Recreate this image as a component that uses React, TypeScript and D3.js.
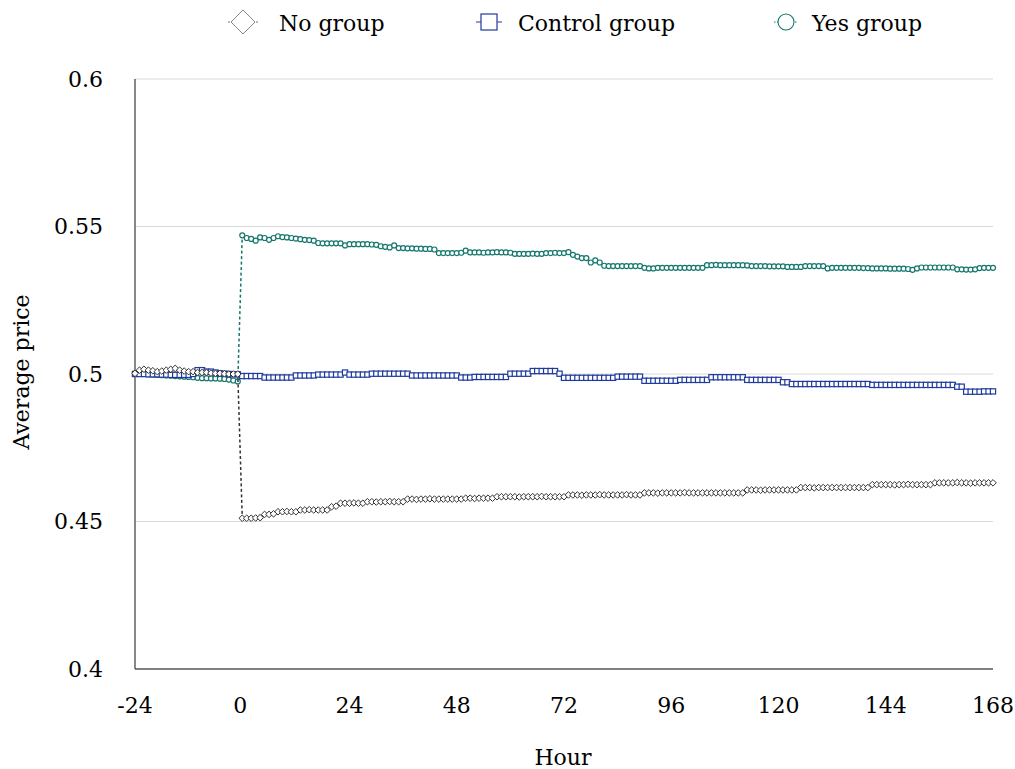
import React from "react";
import * as d3 from "d3";

const hours: number[] = d3.range(-24, 169);

const noGroup: number[] = [
  0.5002, 0.5013, 0.5016, 0.5013, 0.5011, 0.5008, 0.5010, 0.5013, 0.5016, 0.5019, 0.5013, 0.5010,
  0.5008, 0.5008, 0.5005, 0.5005, 0.5005, 0.5003, 0.5002, 0.5002, 0.5001, 0.5000, 0.5000, 0.5000,
  0.4511, 0.4511, 0.4511, 0.4512, 0.4513, 0.4524, 0.4524, 0.4526, 0.4533, 0.4533, 0.4534, 0.4533,
  0.4533, 0.4539, 0.4539, 0.4540, 0.4539, 0.4539, 0.4539, 0.4539, 0.4550, 0.4552, 0.4562, 0.4562,
  0.4562, 0.4563, 0.4562, 0.4562, 0.4567, 0.4567, 0.4566, 0.4567, 0.4567, 0.4568, 0.4567, 0.4567,
  0.4567, 0.4576, 0.4576, 0.4575, 0.4576, 0.4576, 0.4577, 0.4576, 0.4576, 0.4576, 0.4576, 0.4576,
  0.4576, 0.4576, 0.4579, 0.4579, 0.4578, 0.4579, 0.4579, 0.4579, 0.4579, 0.4584, 0.4584, 0.4584,
  0.4584, 0.4584, 0.4583, 0.4584, 0.4584, 0.4584, 0.4584, 0.4585, 0.4584, 0.4584, 0.4584, 0.4584,
  0.4584, 0.4590, 0.4590, 0.4590, 0.4589, 0.4590, 0.4590, 0.4590, 0.4591, 0.4590, 0.4590, 0.4590,
  0.4590, 0.4590, 0.4591, 0.4590, 0.4590, 0.4590, 0.4597, 0.4597, 0.4597, 0.4596, 0.4597, 0.4597,
  0.4597, 0.4597, 0.4597, 0.4598, 0.4597, 0.4597, 0.4597, 0.4597, 0.4597, 0.4597, 0.4597, 0.4597,
  0.4597, 0.4597, 0.4597, 0.4597, 0.4597, 0.4607, 0.4607, 0.4607, 0.4606, 0.4607, 0.4607, 0.4607,
  0.4607, 0.4607, 0.4607, 0.4607, 0.4607, 0.4615, 0.4615, 0.4615, 0.4614, 0.4615, 0.4615, 0.4615,
  0.4615, 0.4615, 0.4615, 0.4615, 0.4615, 0.4615, 0.4615, 0.4615, 0.4615, 0.4625, 0.4625, 0.4625,
  0.4625, 0.4625, 0.4624, 0.4625, 0.4625, 0.4626, 0.4625, 0.4625, 0.4625, 0.4625, 0.4625, 0.4631,
  0.4631, 0.4631, 0.4631, 0.4631, 0.4632, 0.4631, 0.4631, 0.4630, 0.4631, 0.4631, 0.4631, 0.4631,
  0.4631,
];

const controlGroup: number[] = [
  0.5000, 0.5000, 0.5000, 0.4999, 0.4999, 0.4999, 0.4998, 0.4998, 0.4997, 0.4997, 0.4997, 0.4997,
  0.4997, 0.5000, 0.5013, 0.5013, 0.5008, 0.5008, 0.5005, 0.5002, 0.5001, 0.5000, 0.4999, 0.4999,
  0.4993, 0.4993, 0.4993, 0.4993, 0.4993, 0.4988, 0.4988, 0.4988, 0.4988, 0.4988, 0.4988, 0.4988,
  0.4995, 0.4995, 0.4995, 0.4995, 0.4995, 0.4998, 0.4998, 0.4998, 0.4998, 0.4998, 0.4998, 0.5005,
  0.4998, 0.4998, 0.4998, 0.4998, 0.4998, 0.5001, 0.5001, 0.5001, 0.5001, 0.5001, 0.5001, 0.5001,
  0.5001, 0.5001, 0.4995, 0.4995, 0.4995, 0.4995, 0.4995, 0.4995, 0.4995, 0.4995, 0.4995, 0.4995,
  0.4995, 0.4988, 0.4988, 0.4988, 0.4990, 0.4990, 0.4990, 0.4990, 0.4990, 0.4990, 0.4990, 0.4990,
  0.5001, 0.5001, 0.5001, 0.5001, 0.5001, 0.5010, 0.5010, 0.5010, 0.5010, 0.5010, 0.5010, 0.5001,
  0.4987, 0.4987, 0.4987, 0.4987, 0.4987, 0.4987, 0.4987, 0.4987, 0.4987, 0.4987, 0.4987, 0.4987,
  0.4991, 0.4991, 0.4991, 0.4991, 0.4991, 0.4991, 0.4977, 0.4977, 0.4977, 0.4977, 0.4977, 0.4977,
  0.4977, 0.4977, 0.4980, 0.4980, 0.4980, 0.4980, 0.4980, 0.4980, 0.4980, 0.4989, 0.4989, 0.4989,
  0.4989, 0.4989, 0.4989, 0.4989, 0.4989, 0.4980, 0.4980, 0.4980, 0.4980, 0.4980, 0.4980, 0.4980,
  0.4980, 0.4972, 0.4972, 0.4966, 0.4966, 0.4966, 0.4966, 0.4966, 0.4966, 0.4966, 0.4966, 0.4966,
  0.4966, 0.4966, 0.4966, 0.4966, 0.4966, 0.4966, 0.4966, 0.4966, 0.4966, 0.4963, 0.4963, 0.4963,
  0.4963, 0.4963, 0.4963, 0.4963, 0.4963, 0.4963, 0.4963, 0.4963, 0.4963, 0.4963, 0.4963, 0.4963,
  0.4963, 0.4963, 0.4963, 0.4963, 0.4957, 0.4957, 0.4940, 0.4940, 0.4940, 0.4940, 0.4941, 0.4941,
  0.4941,
];

const yesGroup: number[] = [
  0.5002, 0.5001, 0.5000, 0.4999, 0.4998, 0.4997, 0.4996, 0.4995, 0.4994, 0.4993, 0.4992, 0.4991,
  0.4990, 0.4989, 0.4987, 0.4986, 0.4986, 0.4985, 0.4985, 0.4984, 0.4983, 0.4981, 0.4978, 0.4975,
  0.5470, 0.5461, 0.5458, 0.5452, 0.5463, 0.5461, 0.5455, 0.5461, 0.5467, 0.5464, 0.5463, 0.5461,
  0.5459, 0.5457, 0.5455, 0.5454, 0.5452, 0.5444, 0.5443, 0.5443, 0.5443, 0.5443, 0.5443, 0.5436,
  0.5440, 0.5440, 0.5440, 0.5440, 0.5440, 0.5439, 0.5438, 0.5433, 0.5431, 0.5429, 0.5436, 0.5427,
  0.5427, 0.5426, 0.5426, 0.5425, 0.5425, 0.5424, 0.5424, 0.5422, 0.5410, 0.5410, 0.5410, 0.5410,
  0.5410, 0.5411, 0.5418, 0.5412, 0.5412, 0.5412, 0.5411, 0.5412, 0.5412, 0.5413, 0.5412, 0.5412,
  0.5411, 0.5407, 0.5407, 0.5407, 0.5407, 0.5408, 0.5407, 0.5407, 0.5410, 0.5410, 0.5411, 0.5410,
  0.5410, 0.5413, 0.5404, 0.5398, 0.5393, 0.5393, 0.5378, 0.5385, 0.5378, 0.5367, 0.5366, 0.5366,
  0.5366, 0.5366, 0.5366, 0.5366, 0.5366, 0.5366, 0.5360, 0.5358, 0.5358, 0.5360, 0.5360, 0.5360,
  0.5360, 0.5360, 0.5360, 0.5360, 0.5360, 0.5360, 0.5360, 0.5360, 0.5369, 0.5369, 0.5370, 0.5369,
  0.5369, 0.5369, 0.5369, 0.5369, 0.5369, 0.5368, 0.5366, 0.5366, 0.5366, 0.5366, 0.5365, 0.5365,
  0.5365, 0.5365, 0.5363, 0.5363, 0.5363, 0.5363, 0.5366, 0.5366, 0.5366, 0.5366, 0.5366, 0.5358,
  0.5360, 0.5360, 0.5360, 0.5360, 0.5360, 0.5360, 0.5360, 0.5359, 0.5359, 0.5358, 0.5358, 0.5358,
  0.5358, 0.5357, 0.5357, 0.5357, 0.5357, 0.5356, 0.5353, 0.5358, 0.5361, 0.5361, 0.5361, 0.5361,
  0.5361, 0.5361, 0.5361, 0.5361, 0.5355, 0.5355, 0.5354, 0.5354, 0.5355, 0.5359, 0.5360, 0.5360,
  0.5360,
];

const xTicks: number[] = [-24, 0, 24, 48, 72, 96, 120, 144, 168];
const yTicks: number[] = [0.4, 0.45, 0.5, 0.55, 0.6];
const yTickLabels: string[] = ["0.4", "0.45", "0.5", "0.55", "0.6"];
const seriesNames: string[] = ["No group", "Control group", "Yes group"];

const FONT = "'DejaVu Serif', serif";
const C_NO = "#333333";
const C_CTRL = "#1f3a9e";
const C_YES = "#13776c";

const W = 1015;
const H = 769;
const M = { left: 135, right: 993, top: 79, bottom: 669 };

function diamondPath(r: number) {
  return `M0,${-r}L${r},0L0,${r}L${-r},0Z`;
}

export default function App() {
  const x = d3.scaleLinear().domain([-24, 168]).range([M.left, M.right]);
  const y = d3.scaleLinear().domain([0.4, 0.6]).range([M.bottom, M.top]);

  const line = d3
    .line<[number, number]>()
    .x((d) => x(d[0]))
    .y((d) => y(d[1]));

  const mk = (vals: number[]) => hours.map((h, i) => [h, vals[i]] as [number, number]);
  const dNo = mk(noGroup);
  const dCtrl = mk(controlGroup);
  const dYes = mk(yesGroup);

  return (
    <svg
      width={W}
      height={H}
      style={{ position: "absolute", left: 0, top: 0, background: "#fff" }}
      fontFamily={FONT}
    >
      <rect x={0} y={0} width={W} height={H} fill="#fff" />
      {yTicks.slice(1).map((t) => (
        <line key={t} x1={M.left} x2={M.right} y1={y(t)} y2={y(t)} stroke="#d9d9d9" strokeWidth={1} />
      ))}
      <line x1={M.left} x2={M.left} y1={M.top} y2={M.bottom} stroke="#555" strokeWidth={1.4} />
      <line x1={M.left} x2={M.right} y1={M.bottom} y2={M.bottom} stroke="#555" strokeWidth={1.4} />
      {yTicks.map((t, i) => (
        <text key={t} x={103} y={y(t)} textAnchor="end" dominantBaseline="central" fontSize={22} fill="#000">
          {yTickLabels[i]}
        </text>
      ))}
      {xTicks.map((t) => (
        <text key={t} x={x(t) - (t === 0 ? 2 : 0)} y={705} textAnchor="middle" dominantBaseline="central" fontSize={22} fill="#000">
          {t}
        </text>
      ))}
      <text x={563} y={757} textAnchor="middle" dominantBaseline="central" fontSize={22}>
        Hour
      </text>
      <text transform={`translate(21,372) rotate(-90)`} textAnchor="middle" dominantBaseline="central" fontSize={22}>
        Average price
      </text>

      <path d={line(dYes) || ""} fill="none" stroke={C_YES} strokeWidth={1.5} strokeDasharray="3,2.5" />
      {dYes.map((d) => (
        <circle key={"y" + d[0]} cx={x(d[0])} cy={y(d[1])} r={2.5} fill="#fff" stroke={C_YES} strokeWidth={1.2} />
      ))}
      <path d={line(dCtrl) || ""} fill="none" stroke={C_CTRL} strokeWidth={1.5} strokeDasharray="3,2.5" />
      {dCtrl.map((d) => (
        <rect key={"c" + d[0]} x={x(d[0]) - 2.6} y={y(d[1]) - 2.6} width={5.2} height={5.2} fill="#fff" stroke={C_CTRL} strokeWidth={1.2} />
      ))}
      <path d={line(dNo) || ""} fill="none" stroke={C_NO} strokeWidth={1.5} strokeDasharray="3,2.5" />
      {dNo.map((d) => (
        <path key={"n" + d[0]} transform={`translate(${x(d[0])},${y(d[1])})`} d={diamondPath(3.3)} fill="#fff" stroke={C_NO} strokeWidth={1} />
      ))}

      <g>
        <line x1={228} x2={258} y1={22} y2={22} stroke="#777" strokeWidth={1} strokeDasharray="2,2" />
        <path transform="translate(243,22)" d={diamondPath(12)} fill="#fff" stroke="#888" strokeWidth={1} />
        <text x={279} y={23} dominantBaseline="central" fontSize={22}>{seriesNames[0]}</text>

        <line x1={476} x2={502} y1={22} y2={22} stroke={C_CTRL} strokeWidth={1} />
        <rect x={481} y={14} width={16} height={16} fill="#fff" stroke={C_CTRL} strokeWidth={1.2} />
        <text x={518} y={23} dominantBaseline="central" fontSize={22}>{seriesNames[1]}</text>

        <line x1={774} x2={798} y1={22} y2={22} stroke={C_YES} strokeWidth={1} strokeDasharray="1.5,1.5" />
        <circle cx={786} cy={22} r={8} fill="#fff" stroke={C_YES} strokeWidth={1.1} />
        <text x={812} y={23} dominantBaseline="central" fontSize={22}>{seriesNames[2]}</text>
      </g>
    </svg>
  );
}
